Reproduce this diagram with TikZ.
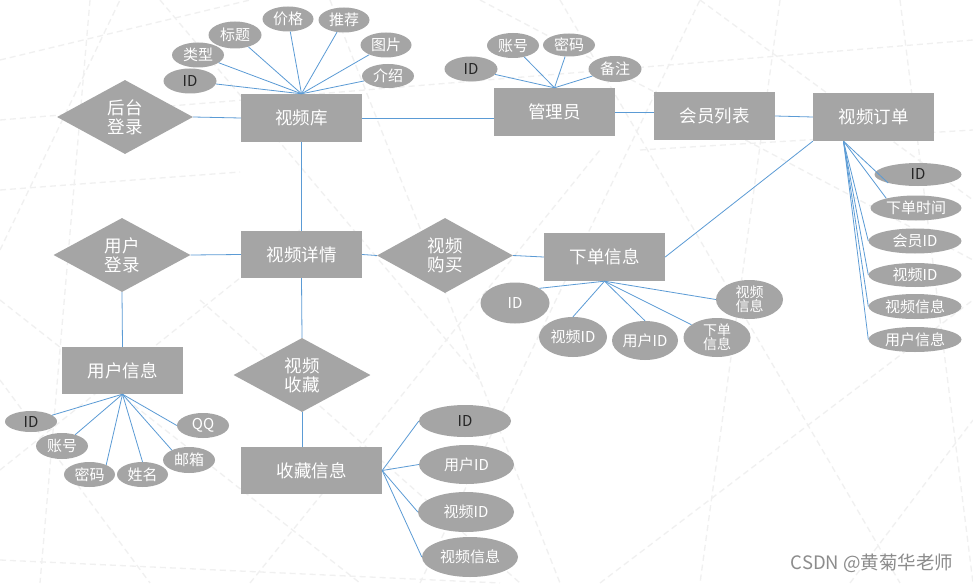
\documentclass[tikz,border=0pt]{standalone}
\usepackage{fontspec}
\newfontfamily\cjk{Noto Sans CJK SC}
\usetikzlibrary{shapes.geometric}
\definecolor{boxgray}{HTML}{A5A5A5}
\definecolor{lnblue}{HTML}{5B9BD5}
\definecolor{bgline}{HTML}{F0F0F0}
\definecolor{wmgray}{HTML}{8C8C8C}
\begin{document}
\begin{tikzpicture}[x=1pt,y=-1pt,
  ent/.style={rectangle, fill=boxgray, text=white, inner sep=0pt, minimum width=121pt, minimum height=48pt, font=\cjk\fontsize{17.5}{20}\selectfont},
  rel/.style={diamond, fill=boxgray, text=white, inner sep=0pt, minimum width=137pt, minimum height=74pt, align=center, font=\cjk\fontsize{17.5}{19}\selectfont},
  attr/.style={ellipse, fill=boxgray, text=white, inner sep=0pt, align=center, font=\cjk\fontsize{15}{14}\selectfont},
  dk/.style={text=black!85},
  conn/.style={draw=lnblue, line width=0.8pt},
  bgl/.style={draw=bgline, line width=1.3pt, dash pattern=on 6pt off 4pt}
]
\useasboundingbox (0,0) rectangle (973,583);
\fill[white] (0,0) rectangle (973,583);
% faint background network
\foreach \a/\b/\c/\d in {0/190/240/172, 0/60/250/0, 90/0/40/583, 0/300/360/583, 160/0/480/380, 0/470/300/230,
  330/0/560/583, 420/583/700/0, 560/0/900/583, 600/583/973/300, 700/0/973/200, 0/120/973/40,
  780/0/700/583, 850/583/973/420, 0/560/500/583, 250/583/600/150, 900/0/973/583, 480/0/973/260,
  0/380/150/583, 200/300/520/583, 640/150/973/130, 0/250/120/0}
  \draw[bgl] (\a,\b) -- (\c,\d);

% entities
\node[ent] (vk) at (301.5,118) {视频库};
\node[ent] (gly) at (554.5,112) {管理员};
\node[ent] (hy) at (714.5,116) {会员列表};
\node[ent] (ord) at (873.5,117) {视频订单};
\node[ent, minimum height=47pt] (xq) at (301.5,254.5) {视频详情};
\node[ent] (xd) at (604.5,257) {下单信息};
\node[ent, minimum height=47pt] (yh) at (122.5,370.5) {用户信息};
\node[ent, minimum width=141pt, minimum height=47pt] (sc) at (311.5,470.5) {收藏信息};

% relations
\node[rel, minimum width=136pt] (ht) at (125,117) {后台\\登录};
\node[rel] (yd) at (122,255) {用户\\登录};
\node[rel, minimum width=136pt, minimum height=75pt] (gm) at (445,255.5) {视频\\购买};
\node[rel] (cang) at (302,375) {视频\\收藏};

% attributes of 视频库
\node[attr, dk, minimum width=53pt, minimum height=25pt] (v1) at (190,81) {ID};
\node[attr, minimum width=52pt, minimum height=25pt] (v2) at (198,55) {类型};
\node[attr, minimum width=53pt, minimum height=27pt] (v3) at (235,35) {标题};
\node[attr, minimum width=51pt, minimum height=25pt] (v4) at (288,19) {价格};
\node[attr, minimum width=51pt, minimum height=25pt] (v5) at (344,20) {推荐};
\node[attr, minimum width=51pt, minimum height=25pt] (v6) at (386,45) {图片};
\node[attr, minimum width=52pt, minimum height=24pt] (v7) at (388,76) {介绍};

% attributes of 管理员
\node[attr, dk, minimum width=53pt, minimum height=25pt] (g1) at (471,69) {ID};
\node[attr, minimum width=52pt, minimum height=25pt] (g2) at (513,45.5) {账号};
\node[attr, minimum width=52pt, minimum height=23pt] (g3) at (569,45) {密码};
\node[attr, minimum width=53pt, minimum height=26pt] (g4) at (615,69) {备注};

% attributes of 视频订单
\node[attr, dk, minimum width=87pt, minimum height=23pt] (o1) at (918,174.5) {ID};
\node[attr, minimum width=91pt, minimum height=25pt] (o2) at (916,208) {下单时间};
\node[attr, minimum width=93pt, minimum height=25pt] (o3) at (915,241) {会员ID};
\node[attr, minimum width=93pt, minimum height=24pt] (o4) at (915,275) {视频ID};
\node[attr, minimum width=93pt, minimum height=25pt] (o5) at (915,306.5) {视频信息};
\node[attr, minimum width=93pt, minimum height=25pt] (o6) at (915,339.5) {用户信息};

% attributes of 下单信息
\node[attr, minimum width=69pt, minimum height=41pt] (x1) at (515,303) {ID};
\node[attr, minimum width=68pt, minimum height=40pt] (x2) at (573,337) {视频ID};
\node[attr, minimum width=66pt, minimum height=39pt] (x3) at (645,340.5) {用户ID};
\node[attr, minimum width=67pt, minimum height=39pt, font=\cjk\fontsize{14}{13}\selectfont] (x4) at (717,337.5) {下单\\信息};
\node[attr, minimum width=67pt, minimum height=39pt, font=\cjk\fontsize{14}{13}\selectfont] (x5) at (749.5,299.5) {视频\\信息};

% attributes of 用户信息
\node[attr, dk, minimum width=52pt, minimum height=21pt] (u1) at (31,421.5) {ID};
\node[attr, minimum width=52pt, minimum height=26pt] (u2) at (62,446) {账号};
\node[attr, minimum width=51pt, minimum height=25pt] (u3) at (89.5,474.5) {密码};
\node[attr, minimum width=51pt, minimum height=25pt] (u4) at (142.5,474.5) {姓名};
\node[attr, minimum width=52pt, minimum height=26pt] (u5) at (189,460) {邮箱};
\node[attr, minimum width=52pt, minimum height=25pt] (u6) at (203,425.5) {QQ};

% attributes of 收藏信息
\node[attr, dk, minimum width=92pt, minimum height=32pt] (s1) at (465,421) {ID};
\node[attr, minimum width=95pt, minimum height=39pt] (s2) at (466.5,464.5) {用户ID};
\node[attr, minimum width=96pt, minimum height=40pt] (s3) at (466,512) {视频ID};
\node[attr, minimum width=96pt, minimum height=40pt] (s4) at (470,557) {视频信息};

% connectors between entities and relations
\draw[conn] (ht.east) -- (vk.west);
\draw[conn] (vk.east) -- (vk.east -| gly.west);
\draw[conn] (gly.east) -- (gly.east -| hy.west);
\draw[conn] (hy.east) -- (ord.west);
\draw[conn] (vk.south) -- (xq.north);
\draw[conn] (yd.east) -- (xq.west);
\draw[conn] (xq.east) -- (gm.west);
\draw[conn] (gm.east) -- (xd.west);
\draw[conn] (ord.south west) -- (xd.east);
\draw[conn] (yd.south) -- (yh.north);
\draw[conn] (xq.south) -- (cang.north);
\draw[conn] (cang.south) -- (sc.north -| cang.south);

% attribute connectors
\foreach \e in {v1,v2,v3,v4,v5,v6,v7} \draw[conn] (vk.north) -- (\e);
\foreach \e in {g1,g2,g3,g4} \draw[conn] (gly.north) -- (\e);
\coordinate (oc) at ([xshift=-30pt]ord.south);
\draw[conn] (oc) -- (o1.196);
\draw[conn] (oc) -- (o2.162);
\foreach \e in {o3,o4,o5,o6} \draw[conn] (oc) -- (\e.west);
\draw[conn] (xd.south) -- (x1.31);
\draw[conn] (xd.south) -- (x2.north);
\draw[conn] (xd.south) -- (x3.north);
\draw[conn] (xd.south) -- (x4);
\draw[conn] (xd.south) -- (x5.west);
\draw[conn] (yh.south) -- (u1);
\draw[conn] (yh.south) -- (u2);
\draw[conn] (yh.south) -- (u3.30);
\draw[conn] (yh.south) -- (u4.north);
\draw[conn] (yh.south) -- (u5.150);
\draw[conn] (yh.south) -- (u6.west);
\foreach \e in {s1,s2,s3,s4} \draw[conn] (sc.east) -- (\e.west);

% watermark
\node[text=wmgray, font=\cjk\fontsize{18.5}{19}\selectfont, inner sep=0pt] (wm) at (872,563) {CSDN @黄菊华老师};
\end{tikzpicture}
\end{document}
